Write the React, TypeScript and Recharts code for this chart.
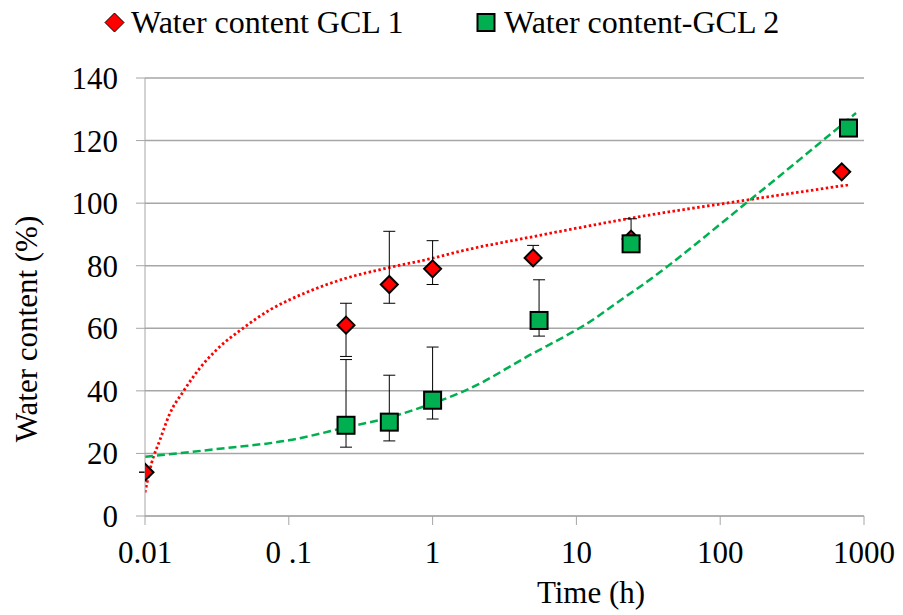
import {
  ComposedChart,
  CartesianGrid,
  ErrorBar,
  Legend,
  Line,
  Scatter,
  XAxis,
  YAxis,
} from "recharts";

const FONT = "Liberation Serif, Times New Roman, DejaVu Serif, serif";
const RED = "#ff0000";
const GREEN = "#00b050";
const GRID = "#a6a6a6";

// measured points, GCL 1
const gcl1Time = [0.01, 0.25, 0.5, 1, 5, 24, 700];
const gcl1Water = [14, 61, 74, 79, 82.5, 88.5, 110];
const gcl1ErrLow = [0, 10, 6, 5, 0, 0, 0];
const gcl1ErrHigh = [0, 7, 17, 9, 4, 6.5, 0];

// measured points, GCL 2
const gcl2Time = [0.25, 0.5, 1, 5.5, 24, 780];
const gcl2Water = [29, 30, 37, 62.5, 87, 124];
const gcl2ErrLow = [7, 6, 6, 5, 0, 0];
const gcl2ErrHigh = [21, 15, 17, 13, 0, 0];

// trend lines
const trend1Time = [0.01, 0.0111, 0.0127, 0.0149, 0.0184, 0.024, 0.0314, 0.048, 0.074, 0.1, 0.133, 0.25, 0.5, 1, 1.55, 5, 10.6, 24, 153, 793];
const trend1Water = [7.5, 16.8, 24.3, 32.8, 39.7, 47.2, 53.1, 60, 65.9, 69, 71.5, 76, 79.4, 82.4, 84.6, 89.3, 92.2, 95.2, 101, 105.9];
const trend2Time = [0.01, 0.033, 0.1, 0.25, 0.5, 1, 1.73, 5, 8.6, 11.2, 21.2, 27.7, 161, 880];
const trend2Water = [18.9, 21.5, 24.2, 28.3, 31.5, 36, 40.3, 52, 57.8, 60.8, 69.6, 73.3, 101, 128.8];

const xTicks = [0.01, 0.1, 1, 10, 100, 1000];
const xTickLabels = ["0.01", "0 .1", "1", "10", "100", "1000"];
const yTicks = [0, 20, 40, 60, 80, 100, 120, 140];

const gcl1 = gcl1Time.map((x, i) => ({ x, y: gcl1Water[i], err: [gcl1ErrLow[i], gcl1ErrHigh[i]] }));
const gcl2 = gcl2Time.map((x, i) => ({ x, y: gcl2Water[i], err: [gcl2ErrLow[i], gcl2ErrHigh[i]] }));
const trend1 = trend1Time.map((x, i) => ({ x, y: trend1Water[i] }));
const trend2 = trend2Time.map((x, i) => ({ x, y: trend2Water[i] }));

const textStyle = { fontFamily: FONT, fontSize: 31, fill: "#000" };

function Diamond(props: any) {
  const { cx, cy } = props;
  const r = 8.5;
  return (
    <polygon
      points={`${cx},${cy - r} ${cx + r},${cy} ${cx},${cy + r} ${cx - r},${cy}`}
      fill={RED}
      stroke="#000"
      strokeWidth={2}
    />
  );
}

function Square(props: any) {
  const { cx, cy } = props;
  const s = 17;
  return <rect x={cx - s / 2} y={cy - s / 2} width={s} height={s} fill={GREEN} stroke="#000" strokeWidth={2} />;
}

function LegendBox() {
  return (
    <svg width={903} height={50} style={{ display: "block" }}>
      <polygon points="114.5,13 124,22.5 114.5,32 105,22.5" fill={RED} stroke="#000" strokeWidth={1} />
      <text x={131} y={33} style={{ ...textStyle, fontSize: 32 }}>
        Water content GCL 1
      </text>
      <rect x={477.5} y={14} width={17} height={17} fill={GREEN} stroke="#000" strokeWidth={2} />
      <text x={504} y={33} style={{ ...textStyle, fontSize: 32 }}>
        Water content-GCL 2
      </text>
    </svg>
  );
}

export default function App() {
  return (
    <div style={{ position: "absolute", left: 0, top: 0, background: "#fff", fontFamily: FONT }}>
      <ComposedChart width={903} height={615} margin={{ top: 78, right: 39, bottom: 0, left: 0 }} style={{ fontFamily: FONT }}>
        <CartesianGrid vertical={false} stroke={GRID} strokeWidth={1.5} />
        <XAxis
          dataKey="x"
          type="number"
          scale="log"
          domain={[0.01, 1000]}
          allowDataOverflow
          ticks={xTicks}
          tickFormatter={(v: number) => xTickLabels[xTicks.indexOf(v)] ?? String(v)}
          height={99}
          tickSize={9}
          tickMargin={16}
          stroke={GRID}
          tick={{ ...textStyle, style: textStyle }}
          label={{
            content: () => (
              <text x={591} y={603} textAnchor="middle" style={textStyle}>
                Time (h)
              </text>
            ),
          }}
        />
        <YAxis
          dataKey="y"
          type="number"
          domain={[0, 140]}
          allowDataOverflow
          ticks={yTicks}
          width={145}
          tickSize={9}
          tickMargin={18}
          stroke={GRID}
          tick={{ ...textStyle, style: textStyle }}
          label={{
            content: () => (
              <text x={37} y={329} transform="rotate(-90 37 329)" textAnchor="middle" style={textStyle}>
                Water content (%)
              </text>
            ),
          }}
        />
        <Legend
          layout="horizontal"
          verticalAlign="middle"
          align="center"
          wrapperStyle={{ top: 0, left: 0, width: 903 }}
          content={() => <LegendBox />}
        />
        <Line
          data={trend1}
          dataKey="y"
          type="monotone"
          stroke={RED}
          strokeWidth={2.8}
          strokeDasharray="2.5 2.5"
          dot={false}
          activeDot={false}
          isAnimationActive={false}
        />
        <Line
          data={trend2}
          dataKey="y"
          type="monotone"
          stroke={GREEN}
          strokeWidth={2.5}
          strokeDasharray="8 4"
          dot={false}
          activeDot={false}
          isAnimationActive={false}
        />
        <Scatter data={gcl1} dataKey="y" shape={<Diamond />} isAnimationActive={false}>
          <ErrorBar dataKey="err" direction="y" width={6} stroke="#000" strokeWidth={1} />
        </Scatter>
        <Scatter data={gcl2} dataKey="y" shape={<Square />} isAnimationActive={false}>
          <ErrorBar dataKey="err" direction="y" width={6} stroke="#000" strokeWidth={1} />
        </Scatter>
      </ComposedChart>
    </div>
  );
}
